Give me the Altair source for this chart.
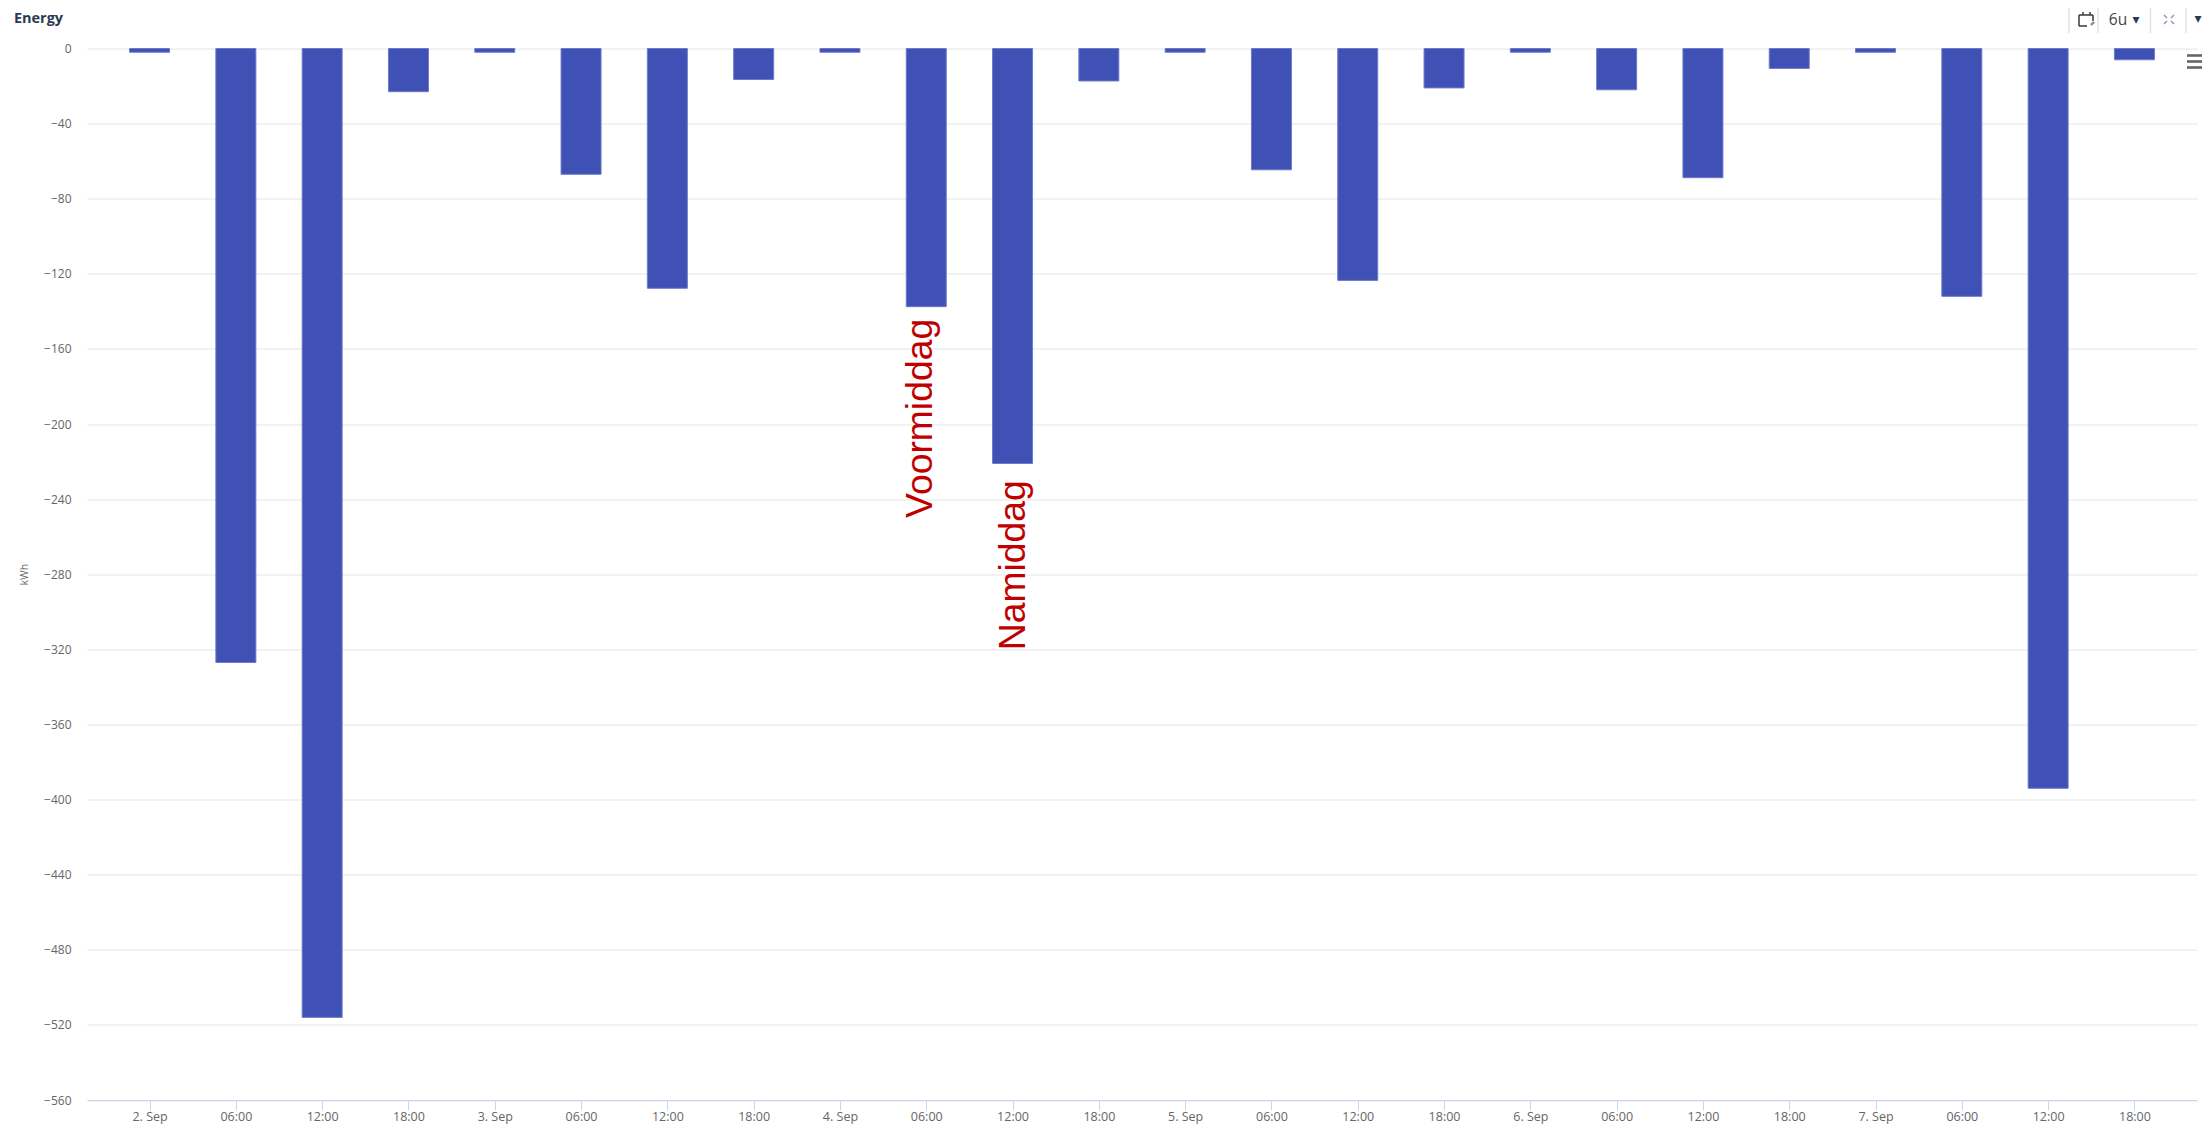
import altair as alt
import pandas as pd

hours = [(0, "00:00"), (6, "06:00"), (12, "12:00"), (18, "18:00")]
days = [2, 3, 4, 5, 6, 7]
times = [f"2023-09-{d:02d}T{h}:00Z" for d in days for _, h in hours]
tick_values = [alt.DateTime(year=2023, month=9, date=d, hours=h, utc=True) for d in days for h, _ in hours]
energy = [-2, -327, -516, -23,
          -2, -67, -127.7, -16.5,
          -2, -137.5, -221, -17.3,
          -2, -64.6, -123.5, -21,
          -2, -22, -68.8, -10.6,
          -2, -132, -394, -6]
y_ticks = list(range(-560, 1, 40))
notes = ["Voormiddag", "Namiddag"]
note_times = ["2023-09-04T06:00:00Z", "2023-09-04T12:00:00Z"]
note_starts = [-250, -320.5]
note_shift = [5.5, 12.4]

X0, Y0 = 87, 48.5
W, H = 2110, 1051.5
FONT = "Open Sans"

x_scale = alt.Scale(type="utc", nice=False, padding=0, domain=[
    alt.DateTime(year=2023, month=9, date=1, hours=19, minutes=39, utc=True),
    alt.DateTime(year=2023, month=9, date=7, hours=22, minutes=21, utc=True),
])
y_scale = alt.Scale(domain=[-560, 0], nice=False, zero=False)

df = pd.DataFrame({"time": times, "energy": energy})

bars = alt.Chart(df).mark_bar(
    size=40, color="#3f51b5", stroke="#6d7bcb", strokeWidth=1
).encode(
    x=alt.X("time:T", scale=x_scale, title=None, axis=alt.Axis(
        values=tick_values,
        labelExpr="utchours(datum.value) == 0 ? utcFormat(datum.value, '%-d. %b') : utcFormat(datum.value, '%H:%M')",
        grid=False, domainColor="#ccd6eb", domainWidth=1, tickColor="#ccd6eb", tickSize=10,
        labelColor="#666666", labelFont=FONT, labelFontSize=12.5, labelPadding=0,
        labelOverlap=False, labelFlush=False, labelAngle=0,
    )),
    y=alt.Y("energy:Q", scale=y_scale, axis=alt.Axis(
        values=y_ticks, format="d", title="kWh", titleFont=FONT, titleFontSize=10.5,
        titleFontWeight="normal", titleColor="#666666", titlePadding=14,
        domain=False, ticks=False, grid=True, gridColor="#e6e6e6", gridWidth=1.2,
        labelColor="#666666", labelFont=FONT, labelFontSize=12, labelPadding=16,
    )),
)

layers = [bars]
for note_label, t, start, shift in zip(notes, note_times, note_starts, note_shift):
    note = pd.DataFrame({"time": [t], "value": [start], "label": [note_label]})
    layers.append(
        alt.Chart(note).mark_text(
            angle=270, align="left", baseline="alphabetic", dy=shift,
            font="Liberation Sans", fontSize=37.3, color="#c00000",
        ).encode(
            x=alt.X("time:T", scale=x_scale),
            y=alt.Y("value:Q", scale=y_scale),
            text="label:N",
        )
    )


def px(x, y):
    return {"x": alt.value(x - X0), "y": alt.value(y - Y0)}


def rule(x1, y1, x2, y2, color, width):
    return alt.Chart().mark_rule(color=color, strokeWidth=width).encode(
        x=alt.value(x1 - X0), x2=alt.value(x2 - X0),
        y=alt.value(y1 - Y0), y2=alt.value(y2 - Y0),
    )


def label(text, x, y, size, color, font=FONT, weight="normal"):
    return alt.Chart().mark_text(
        text=text, align="center", baseline="middle", fontSize=size, color=color,
        font=font, fontWeight=weight,
    ).encode(**px(x, y))


# panel heading and toolbar furniture of the dashboard
layers.append(label("Energy", 38.5, 18.5, 14.5, "#2b3a52", FONT, "bold"))
for sx in [2069, 2098, 2150.5, 2186]:
    layers.append(rule(sx, 5, sx, 33, "#e4e4e4", 1.5))
layers.append(label("6u", 2118, 19.5, 15.5, "#444444"))
layers.append(label("▾", 2136, 20, 14, "#2b3a52", "DejaVu Sans"))
layers.append(label("▾", 2198, 19, 14, "#2b3a52", "DejaVu Sans"))
for hy in [55.5, 61.5, 67.5]:
    layers.append(rule(2187, hy, 2202, hy, "#666666", 2.6))
# calendar icon
for seg in [(2079, 15, 2079, 26), (2079, 26, 2087, 26), (2079, 15, 2093, 15), (2093, 15, 2093, 21),
            (2083, 12, 2083, 15), (2090, 12, 2090, 15)]:
    layers.append(rule(*seg, "#444444", 1.6))
layers.append(rule(2091, 25, 2094, 22, "#888888", 2.4))
# expand icon
for seg in [(2164, 15, 2167, 18), (2174, 15, 2171, 18), (2164, 24, 2167, 21), (2174, 24, 2171, 21)]:
    layers.append(rule(*seg, "#8a97a6", 1.4))

chart = alt.layer(*layers).properties(
    width=W, height=H,
    padding={"left": X0 - 8, "top": Y0 - 8, "right": 5, "bottom": 26},
    autosize=alt.AutoSizeParams(type="none"),
    background="white",
).configure_view(stroke=None)

chart.save("out.html", embed_options={"renderer": "svg", "actions": False})
